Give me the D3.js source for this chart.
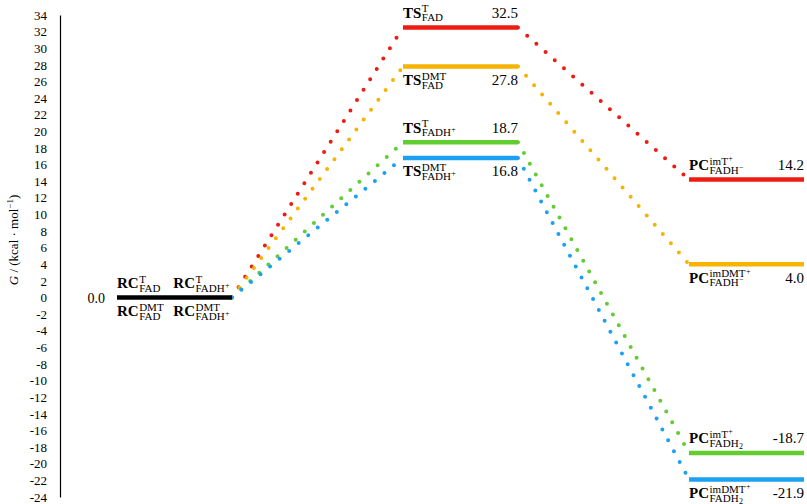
<!DOCTYPE html>
<html>
<head>
<meta charset="utf-8">
<script src="https://cdn.jsdelivr.net/npm/d3@7"></script>
<style>
  body { margin: 0; background: #fff; }
  text { font-family: "Liberation Serif", "DejaVu Serif", serif; fill: #000; }
</style>
</head>
<body>
<script>
var W = 807, H = 504;

// stages along the reaction coordinate
var stages = ["RC", "TS", "PC"];

// energy profiles (kcal/mol) for each pathway
var seriesNames  = ["T_FAD", "DMT_FAD", "T_FADH+", "DMT_FADH+"];
var seriesColors = ["#ec1c10", "#f6b400", "#62cc30", "#1ca0f2"];
var seriesValues = [
  [0, 32.5, 14.2],
  [0, 27.8, 4.0],
  [0, 18.7, -18.7],
  [0, 16.8, -21.9]
];

// labels of each level: base, sup, sup-sup, sub, sub-sup, sub-sub
var tsLabels = [
  ["TS", "T",   "", "FAD",  "",  ""],
  ["TS", "DMT", "", "FAD",  "",  ""],
  ["TS", "T",   "", "FADH", "+", ""],
  ["TS", "DMT", "", "FADH", "+", ""]
];
var pcLabels = [
  ["PC", "imT",   "+", "FADH", "\u2212", ""],
  ["PC", "imDMT", "+", "FADH", "\u2212", ""],
  ["PC", "imT",   "+", "FADH", "",  "2"],
  ["PC", "imDMT", "+", "FADH", "",  "2"]
];
var rcLabelsTop    = [["RC", "T", "", "FAD", "", ""], ["RC", "T", "", "FADH", "+", ""]];
var rcLabelsBottom = [["RC", "DMT", "", "FAD", "", ""], ["RC", "DMT", "", "FADH", "+", ""]];
// which side of the bar the label sits on
var labelSide = ["above", "below", "above", "below"];

var yTicks = d3.range(-24, 35, 2);

var svg = d3.select("body").append("svg")
  .attr("width", W)
  .attr("height", H);

var y = d3.scaleLinear().domain([-24, 34]).range([497, 15]);
var x = d3.scaleBand().domain(stages).range([117, 804]).paddingInner(0.598).paddingOuter(0);
var bw = x.bandwidth();

// axis
var axis = d3.axisLeft(y)
  .tickValues(yTicks)
  .tickSize(0)
  .tickSizeOuter(0)
  .tickPadding(13)
  .tickFormat(function(d) { return String(d); });

var ag = svg.append("g").attr("transform", "translate(60,0)").call(axis);
ag.select(".domain").attr("stroke", "#000").attr("stroke-width", 1.2);
ag.selectAll("text")
  .attr("font-family", "Liberation Serif, serif")
  .attr("font-size", 13)
  .attr("fill", "#000");

// axis title
var title = svg.append("text")
  .attr("transform", "translate(18,240) rotate(-90)")
  .attr("text-anchor", "middle")
  .attr("font-size", 13);
title.append("tspan").attr("font-style", "italic").text("G");
title.append("tspan").text(" / (kcal \u00b7 mol");
title.append("tspan").attr("font-size", 9).attr("dy", -5).text("\u22121");
title.append("tspan").attr("dy", 5).text(")");

// dotted connectors
var links = [];
seriesValues.forEach(function(vals, i) {
  for (var k = 0; k < stages.length - 1; k++) {
    links.push({
      x1: x(stages[k]) + bw, y1: y(vals[k]),
      x2: x(stages[k + 1]), y2: y(vals[k + 1]),
      color: seriesColors[i]
    });
  }
});

svg.selectAll("line.link")
  .data(links)
  .enter().append("line")
  .attr("class", "link")
  .attr("x1", function(d) { return d.x1; })
  .attr("y1", function(d) { return d.y1; })
  .attr("x2", function(d) { return d.x2; })
  .attr("y2", function(d) { return d.y2; })
  .attr("stroke", function(d) { return d.color; })
  .attr("stroke-width", 4)
  .attr("stroke-linecap", "round")
  .attr("stroke-dasharray", "0 12.3");

// level bars
var levels = [];
seriesValues.forEach(function(vals, i) {
  for (var k = 1; k < stages.length; k++) {
    levels.push({ stage: stages[k], value: vals[k], color: seriesColors[i], series: i });
  }
});

svg.selectAll("line.level")
  .data(levels)
  .enter().append("line")
  .attr("class", "level")
  .attr("x1", function(d) { return x(d.stage); })
  .attr("x2", function(d) { return x(d.stage) + bw; })
  .attr("y1", function(d) { return y(d.value); })
  .attr("y2", function(d) { return y(d.value); })
  .attr("stroke", function(d) { return d.color; })
  .attr("stroke-width", 4.5);

// reactant complex bar (shared, value 0)
svg.append("line")
  .attr("x1", x("RC")).attr("x2", x("RC") + bw)
  .attr("y1", y(0)).attr("y2", y(0))
  .attr("stroke", "#000")
  .attr("stroke-width", 4.5);

// label helper: bold base with stacked superscript / subscript
function drawLabel(px, py, L) {
  var g = svg.append("g");
  var t = g.append("text").attr("x", px).attr("y", py)
    .attr("font-size", 15).attr("font-weight", "bold").text(L[0]);
  var sx = px + t.node().getComputedTextLength() + 0.5;
  if (L[1]) {
    var s = g.append("text").attr("x", sx).attr("y", py - 5.5)
      .attr("font-size", 11).text(L[1]);
    if (L[2]) {
      g.append("text").attr("x", sx + s.node().getComputedTextLength() + 0.3).attr("y", py - 9)
        .attr("font-size", 8).text(L[2]);
    }
  }
  if (L[3]) {
    var b = g.append("text").attr("x", sx).attr("y", py + 3.5)
      .attr("font-size", 11).text(L[3]);
    var bx = sx + b.node().getComputedTextLength() + 0.3;
    if (L[4]) {
      g.append("text").attr("x", bx).attr("y", py - 0.5).attr("font-size", 8).text(L[4]);
    }
    if (L[5]) {
      g.append("text").attr("x", bx).attr("y", py + 6).attr("font-size", 8).text(L[5]);
    }
  }
}

function valueText(px, py, v) {
  svg.append("text")
    .attr("x", px).attr("y", py)
    .attr("text-anchor", "end")
    .attr("font-size", 15)
    .text(v.toFixed(1));
}

function baseline(v, side) {
  return side === "above" ? y(v) - 9.5 : y(v) + 18.5;
}

seriesValues.forEach(function(vals, i) {
  var side = labelSide[i];
  drawLabel(x("TS"), baseline(vals[1], side), tsLabels[i]);
  valueText(x("TS") + bw, baseline(vals[1], side), vals[1]);
  drawLabel(x("PC"), baseline(vals[2], side), pcLabels[i]);
  valueText(x("PC") + bw, baseline(vals[2], side), vals[2]);
});

// RC labels
rcLabelsTop.forEach(function(L, j) {
  drawLabel(x("RC") + j * bw * 0.49, baseline(0, "above"), L);
});
rcLabelsBottom.forEach(function(L, j) {
  drawLabel(x("RC") + j * bw * 0.49, baseline(0, "below"), L);
});

svg.append("text")
  .attr("x", 105).attr("y", y(0) + 5)
  .attr("text-anchor", "end")
  .attr("font-size", 14)
  .text("0.0");
</script>
</body>
</html>
